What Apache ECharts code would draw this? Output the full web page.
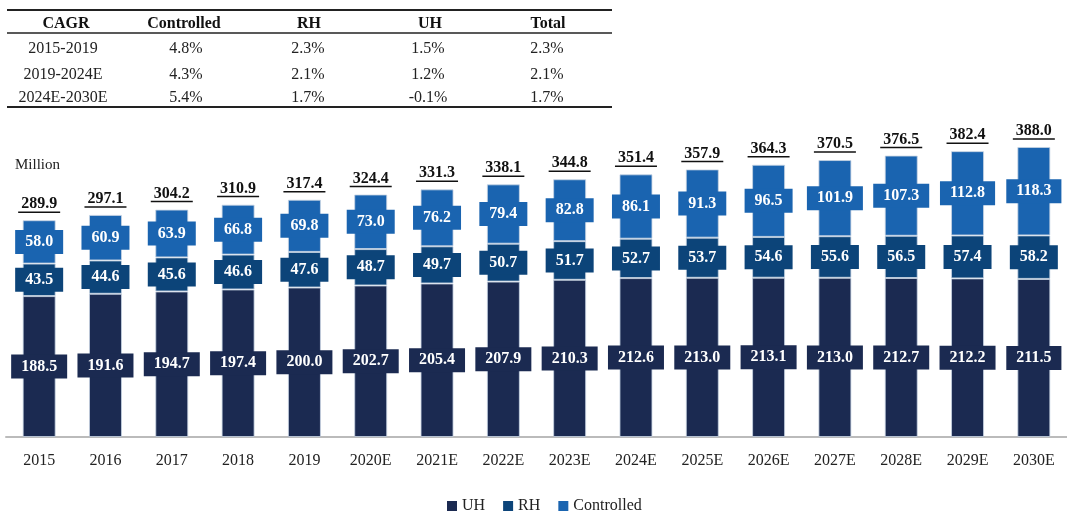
<!DOCTYPE html>
<html>
<head>
<meta charset="utf-8">
<script src="https://cdn.jsdelivr.net/npm/echarts@6/dist/echarts.min.js"></script>
<style>
  html, body { margin: 0; padding: 0; background: #fff; }
  #chart { width: 1067px; height: 511px; }
</style>
</head>
<body>
<div id="chart"></div>
<script>
  // data
  var years = ['2015', '2016', '2017', '2018', '2019', '2020E', '2021E', '2022E', '2023E', '2024E', '2025E', '2026E', '2027E', '2028E', '2029E', '2030E'];
  var uh = [188.5, 191.6, 194.7, 197.4, 200.0, 202.7, 205.4, 207.9, 210.3, 212.6, 213.0, 213.1, 213.0, 212.7, 212.2, 211.5];
  var rh = [43.5, 44.6, 45.6, 46.6, 47.6, 48.7, 49.7, 50.7, 51.7, 52.7, 53.7, 54.6, 55.6, 56.5, 57.4, 58.2];
  var controlled = [58.0, 60.9, 63.9, 66.8, 69.8, 73.0, 76.2, 79.4, 82.8, 86.1, 91.3, 96.5, 101.9, 107.3, 112.8, 118.3];
  var totals = [289.9, 297.1, 304.2, 310.9, 317.4, 324.4, 331.3, 338.1, 344.8, 351.4, 357.9, 364.3, 370.5, 376.5, 382.4, 388.0];

  // CAGR table
  var cagrHeader = ['CAGR', 'Controlled', 'RH', 'UH', 'Total'];
  var cagrPeriods = ['2015-2019', '2019-2024E', '2024E-2030E'];
  var cagrControlled = ['4.8%', '4.3%', '5.4%'];
  var cagrRH = ['2.3%', '2.1%', '1.7%'];
  var cagrUH = ['1.5%', '1.2%', '-0.1%'];
  var cagrTotal = ['2.3%', '2.1%', '1.7%'];

  var serif = '"Liberation Serif", "DejaVu Serif", serif';
  var cUH = '#1b2a51', cRH = '#0c4479', cCtl = '#1a64b0';

  var chartDom = document.getElementById('chart');
  var myChart = echarts.init(chartDom);

  // table graphics
  var headX = [66, 184, 309, 430, 548];
  var colX = [63, 186, 308, 428, 547];
  var rowY = [24, 49, 75, 98];
  var tbl = [];
  tbl.push({ type: 'line', shape: { x1: 7, y1: 10, x2: 612, y2: 10 }, style: { stroke: '#222', lineWidth: 2 } });
  tbl.push({ type: 'line', shape: { x1: 7, y1: 33, x2: 612, y2: 33 }, style: { stroke: '#222', lineWidth: 1.5 } });
  tbl.push({ type: 'line', shape: { x1: 7, y1: 107, x2: 612, y2: 107 }, style: { stroke: '#222', lineWidth: 2 } });
  cagrHeader.forEach(function (h, i) {
    tbl.push({ type: 'text', x: headX[i], y: rowY[0], style: { text: h, font: 'bold 16px ' + serif, fill: '#111', align: 'center', verticalAlign: 'middle' } });
  });
  var cols = [cagrPeriods, cagrControlled, cagrRH, cagrUH, cagrTotal];
  cols.forEach(function (col, i) {
    col.forEach(function (v, r) {
      tbl.push({ type: 'text', x: colX[i], y: rowY[r + 1], style: { text: v, font: '16px ' + serif, fill: '#222', align: 'center', verticalAlign: 'middle' } });
    });
  });
  tbl.push({ type: 'text', x: 15, y: 165, style: { text: 'Million', font: '15px ' + serif, fill: '#222', verticalAlign: 'middle' } });

  function boxLabel(color) {
    return {
      show: true,
      position: 'inside',
      color: '#fff',
      fontFamily: serif,
      fontWeight: 'bold',
      fontSize: 16,
      lineHeight: 18,
      padding: [3, 10],
      backgroundColor: color,
      formatter: function (p) { return p.value.toFixed(1); }
    };
  }

  var barStyle = function (color) {
    return { color: color, borderColor: 'rgba(200,212,228,0.8)', borderWidth: 1 };
  };

  var option = {
    animation: false,
    textStyle: { fontFamily: serif },
    graphic: tbl,
    grid: { left: 6, right: -11, top: 138, bottom: 74 },
    legend: {
      data: ['UH', 'RH', 'Controlled'],
      icon: 'rect',
      left: 442,
      top: 493,
      itemWidth: 10,
      itemHeight: 10,
      itemGap: 18,
      itemStyle: { borderWidth: 0 },
      textStyle: { fontFamily: serif, fontSize: 16, color: '#222' }
    },
    xAxis: {
      type: 'category',
      data: years,
      axisLine: { lineStyle: { color: '#bbb', width: 2 } },
      axisTick: { show: false },
      axisLabel: { color: '#222', fontSize: 16, fontFamily: serif, margin: 16 }
    },
    yAxis: {
      type: 'value',
      min: 0,
      max: 400,
      show: false
    },
    series: [
      { name: 'UH', type: 'bar', stack: 'a', barWidth: 33, data: uh, itemStyle: barStyle(cUH), label: boxLabel(cUH) },
      { name: 'RH', type: 'bar', stack: 'a', data: rh, itemStyle: barStyle(cRH), label: boxLabel(cRH) },
      { name: 'Controlled', type: 'bar', stack: 'a', data: controlled, itemStyle: barStyle(cCtl), label: boxLabel(cCtl) },
      {
        name: 'Total',
        type: 'custom',
        data: totals.map(function (t, i) { return [i, t]; }),
        renderItem: function (params, api) {
          var pt = api.coord([api.value(0), api.value(1)]);
          return {
            type: 'group',
            children: [
              { type: 'text', x: pt[0], y: pt[1] - 16, style: { text: api.value(1).toFixed(1), font: 'bold 16px ' + serif, fill: '#111', align: 'center', verticalAlign: 'middle' } },
              { type: 'line', shape: { x1: pt[0] - 21, y1: pt[1] - 8, x2: pt[0] + 21, y2: pt[1] - 8 }, style: { stroke: '#111', lineWidth: 1.5 } }
            ]
          };
        },
        z: 5
      }
    ]
  };

  option && myChart.setOption(option);
</script>
</body>
</html>
